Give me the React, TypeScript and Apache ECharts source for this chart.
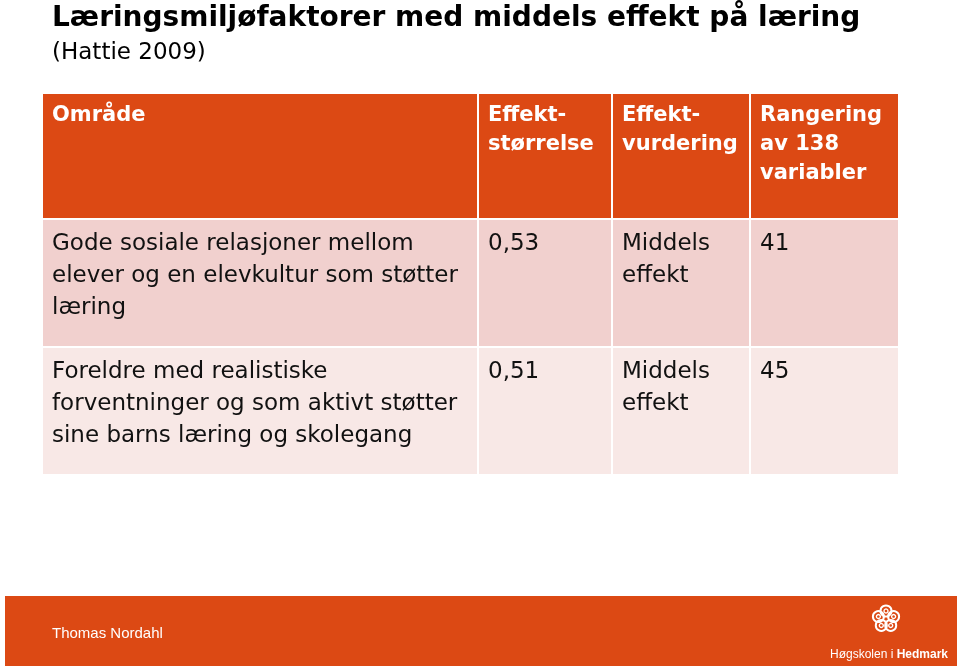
import React, { useEffect, useRef } from "react";
import * as echarts from "echarts";

const titleText = "Læringsmiljøfaktorer med middels effekt på læring";
const subtitleText = "(Hattie 2009)";
const headers = ["Område", "Effekt-\nstørrelse", "Effekt-\nvurdering", "Rangering\nav 138\nvariabler"];
const areaCol = [
  "Gode sosiale relasjoner mellom\nelever og en elevkultur som støtter\nlæring",
  "Foreldre med realistiske\nforventninger og som aktivt støtter\nsine barns læring og skolegang",
];
const effectSize = ["0,53", "0,51"];
const effectRating = ["Middels\neffekt", "Middels\neffekt"];
const ranking = ["41", "45"];
const footerAuthor = "Thomas Nordahl";

const ORANGE = "#DC4914";
const colX = [43, 479, 613, 751, 898];
const headerY = [94, 218];
const rowY = [[220, 346], [348, 474]];
const rowFill = ["#F1D0CE", "#F8E8E6"];
const FONT = "'Liberation Sans', Arial, sans-serif";
const WFONT = "'DejaVu Sans', sans-serif";

export default function App() {
  const ref = useRef<HTMLDivElement>(null);
  useEffect(() => {
    const chart = echarts.init(ref.current!, null, { renderer: "svg" });
    const g: any[] = [];
    g.push({ type: "rect", shape: { x: 0, y: 0, width: 960, height: 668 }, style: { fill: "#ffffff" } });
    g.push({ type: "text", x: 52, y: 16, style: { text: titleText, font: `bold 28px ${WFONT}`, fill: "#000", verticalAlign: "middle" } });
    g.push({ type: "text", x: 52, y: 51, style: { text: subtitleText, font: `23px ${WFONT}`, fill: "#000", verticalAlign: "middle" } });
    // header
    for (let c = 0; c < 4; c++) {
      g.push({
        type: "rect",
        shape: { x: colX[c], y: headerY[0], width: colX[c + 1] - colX[c] - (c < 3 ? 2 : 0), height: headerY[1] - headerY[0] },
        style: { fill: ORANGE },
      });
      g.push({
        type: "text", x: colX[c] + 9, y: 99,
        style: { text: headers[c], font: `bold 21px ${WFONT}`, fill: "#fff", lineHeight: 29, verticalAlign: "top" },
      });
    }
    const cols = [areaCol, effectSize, effectRating, ranking];
    for (let r = 0; r < 2; r++) {
      for (let c = 0; c < 4; c++) {
        g.push({
          type: "rect",
          shape: { x: colX[c], y: rowY[r][0], width: colX[c + 1] - colX[c] - (c < 3 ? 2 : 0), height: rowY[r][1] - rowY[r][0] },
          style: { fill: rowFill[r] },
        });
        g.push({
          type: "text", x: colX[c] + 9, y: rowY[r][0] + 6,
          style: { text: cols[c][r], font: `23px ${WFONT}`, fill: "#111", lineHeight: 32, verticalAlign: "top" },
        });
      }
    }
    // footer
    g.push({ type: "rect", shape: { x: 5, y: 596, width: 952, height: 70 }, style: { fill: ORANGE } });
    g.push({ type: "text", x: 52, y: 632, style: { text: footerAuthor, font: `15px ${FONT}`, fill: "#fff", verticalAlign: "middle" } });
    // logo
    const cx = 886, cy = 619, R = 8;
    for (let i = 0; i < 5; i++) {
      const a = -Math.PI / 2 + (i * 2 * Math.PI) / 5;
      g.push({
        type: "circle",
        shape: { cx: cx + R * Math.cos(a), cy: cy + R * Math.sin(a), r: 5.5 },
        style: { fill: "none", stroke: "#fff", lineWidth: 2 },
      });
      g.push({
        type: "circle",
        shape: { cx: cx + R * Math.cos(a), cy: cy + R * Math.sin(a), r: 2 },
        style: { fill: "none", stroke: "#fff", lineWidth: 1.4 },
      });
    }
    g.push({
      type: "text", x: 830, y: 654,
      style: {
        text: "{a|Høgskolen i }{b|Hedmark}",
        verticalAlign: "middle",
        rich: {
          a: { font: `12px ${FONT}`, fill: "#fff" },
          b: { font: `bold 12px ${FONT}`, fill: "#fff" },
        },
      },
    });
    chart.setOption({ animation: false, graphic: { elements: g } });
    return () => chart.dispose();
  }, []);
  return <div ref={ref} style={{ position: "fixed", left: 0, top: 0, width: 960, height: 668 }} />;
}
